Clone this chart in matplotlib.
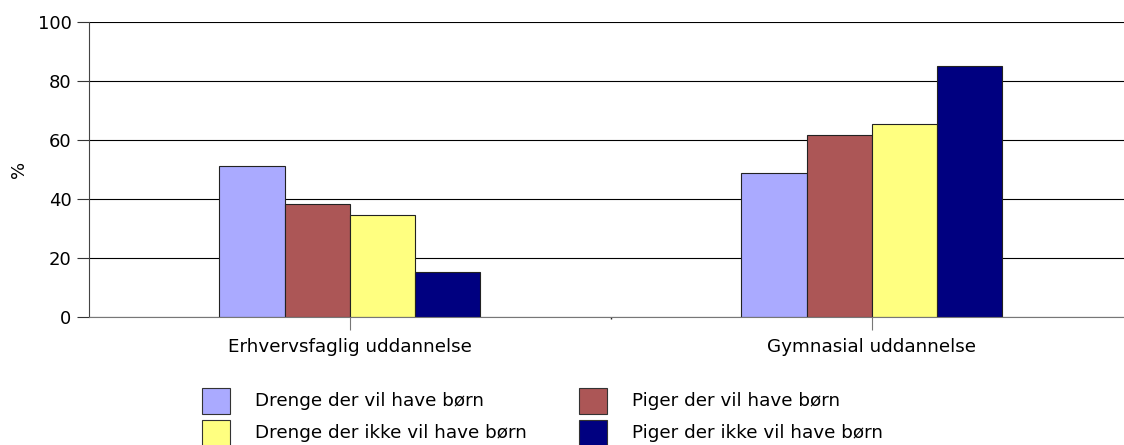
import numpy as np
import matplotlib.pyplot as plt
from matplotlib.patches import Rectangle

# data
categories = ['Erhvervsfaglig uddannelse', 'Gymnasial uddannelse']
series = ['Drenge der vil have børn', 'Piger der vil have børn',
          'Drenge der ikke vil have børn', 'Piger der ikke vil have børn']
drenge_vil = [51.2, 48.8]
piger_vil = [38.3, 61.7]
drenge_ikke = [34.6, 65.4]
piger_ikke = [15.3, 85.1]
yticks = [0, 20, 40, 60, 80, 100]

values = [drenge_vil, piger_vil, drenge_ikke, piger_ikke]
colors = ['#AAAAFF', '#AC5656', '#FFFF80', '#000080']

plt.rcParams['font.family'] = 'DejaVu Sans'

W, H = 1124, 445
fig = plt.figure(figsize=(W / 100, H / 100), dpi=100)
ax = fig.add_axes([89 / W, 128 / H, 1044 / W, 295 / H])

x = np.arange(len(categories))
bw = 0.125
for i, (vals, c) in enumerate(zip(values, colors)):
    ax.bar(x + (i - 1.5) * bw, vals, width=bw, color=c,
           edgecolor='#222222', linewidth=0.8, zorder=3)

ax.set_xlim(-0.5, 1.5)
ax.set_ylim(0, 100)
ax.set_yticks(yticks)
ax.set_xticks(x)
ax.set_xticklabels(categories, fontsize=13.2)
ax.set_xticks([0.5], minor=True)
ax.tick_params(axis='y', labelsize=13, length=8.6, width=0.8,
               color='#333333', pad=4)
ax.tick_params(axis='x', which='major', length=9.4, width=0.8,
               color='#777777', pad=6)
ax.tick_params(axis='x', which='minor', length=1.5, width=1, color='#222222')

ax.yaxis.grid(True, color='black', linewidth=0.8, zorder=0)
ax.set_axisbelow(True)
for s in ['top', 'right']:
    ax.spines[s].set_visible(False)
ax.spines['left'].set_color('#444444')
ax.spines['left'].set_linewidth(0.8)
ax.spines['bottom'].set_color('#777777')
ax.spines['bottom'].set_linewidth(0.8)
ax.spines['bottom'].set_zorder(4)

ax.set_ylabel('%', fontsize=13)
ax.yaxis.set_label_coords(-61 / 1044, 0.5)

# legend laid out as in the reference (2 x 2 grid)
col_x = [202, 579]
row_y = [388, 420]
for i, (lab, c) in enumerate(zip(series, colors)):
    cx = col_x[i % 2]
    ry = row_y[i // 2]
    fig.patches.append(Rectangle((cx / W, 1 - (ry + 26) / H), 28 / W, 26 / H,
                                 transform=fig.transFigure, facecolor=c,
                                 edgecolor='#333333', linewidth=0.8))
    fig.text((cx + 53) / W, 1 - (ry + 13) / H, lab, fontsize=13.2,
             va='center', ha='left')

fig.savefig('out.png', dpi=100)
